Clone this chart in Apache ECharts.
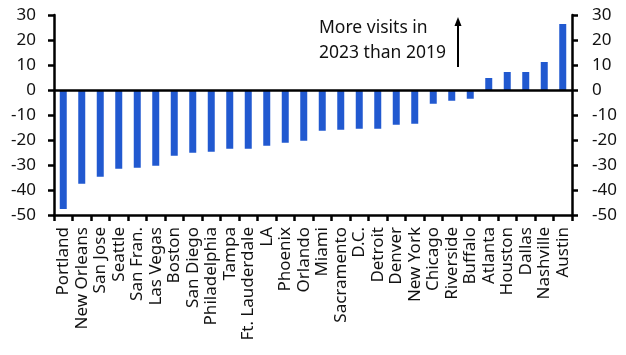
<!DOCTYPE html>
<html><head><meta charset="utf-8">
<script src="https://cdn.jsdelivr.net/npm/echarts@6/dist/echarts.min.js"></script>
<style>html,body{margin:0;padding:0;background:#fff}#c{width:626px;height:355px}</style>
</head><body><div id="c"></div>
<script>
var categories = ["Portland","New Orleans","San Jose","Seattle","San Fran.","Las Vegas","Boston","San Diego","Philadelphia","Tampa","Ft. Lauderdale","LA","Phoenix","Orlando","Miami","Sacramento","D.C.","Detroit","Denver","New York","Chicago","Riverside","Buffalo","Atlanta","Houston","Dallas","Nashville","Austin"];
var values = [-47.6,-37.5,-34.7,-31.5,-31.1,-30.3,-26.3,-25.1,-24.7,-23.5,-23.5,-22.3,-21.1,-20.3,-16.3,-15.9,-15.5,-15.5,-13.9,-13.5,-5.5,-4.3,-3.5,4.8,7.2,7.2,11.2,26.4];
var yTicks = {min:-50, max:30, interval:10};
var annotationLines = ["More visits in","2023 than 2019"];

var FONT = "'Noto Sans', 'Open Sans', sans-serif";
var chart = echarts.init(document.getElementById('c'), null, {renderer:'canvas'});
function yAxis(pos, margin){
  return {
    type:'value', position:pos, min:yTicks.min, max:yTicks.max, interval:yTicks.interval,
    axisLine:{show:true, lineStyle:{color:'#000', width:2.5}},
    axisTick:{show:true, inside:false, length:6, lineStyle:{color:'#000', width:2.5}},
    axisLabel:{color:'#111', fontSize:17, fontFamily:FONT, margin:margin},
    splitLine:{show:false}
  };
}
chart.setOption({
  animation:false,
  grid:{left:54, right:54, top:15, bottom:140, containLabel:false},
  xAxis:{
    type:'category', data:categories,
    axisLine:{onZero:false, lineStyle:{color:'#000', width:2.5}},
    axisTick:{show:true, alignWithLabel:false, length:6, lineStyle:{color:'#000', width:2.5}},
    axisLabel:{rotate:90, interval:0, color:'#111', fontSize:17, fontFamily:FONT, margin:12}
  },
  yAxis:[yAxis('left',18), yAxis('right',20)],
  series:[{
    type:'bar', data:values, barWidth:7, itemStyle:{color:'#2159d0'},
    markLine:{silent:true, symbol:['none','none'], label:{show:false},
      lineStyle:{color:'#000', width:2.5, type:'solid'}, data:[{yAxis:0}]}
  }],
  graphic:[
    {type:'text', left:319, top:16, style:{text:annotationLines.join('\n'), font:'17.5px '+FONT, fill:'#111', lineHeight:25}},
    {type:'line', shape:{x1:458, y1:67, x2:458, y2:24}, style:{stroke:'#000', lineWidth:2}},
    {type:'polygon', shape:{points:[[458,17],[454.5,26],[461.5,26]]}, style:{fill:'#000'}}
  ]
});
</script></body></html>
